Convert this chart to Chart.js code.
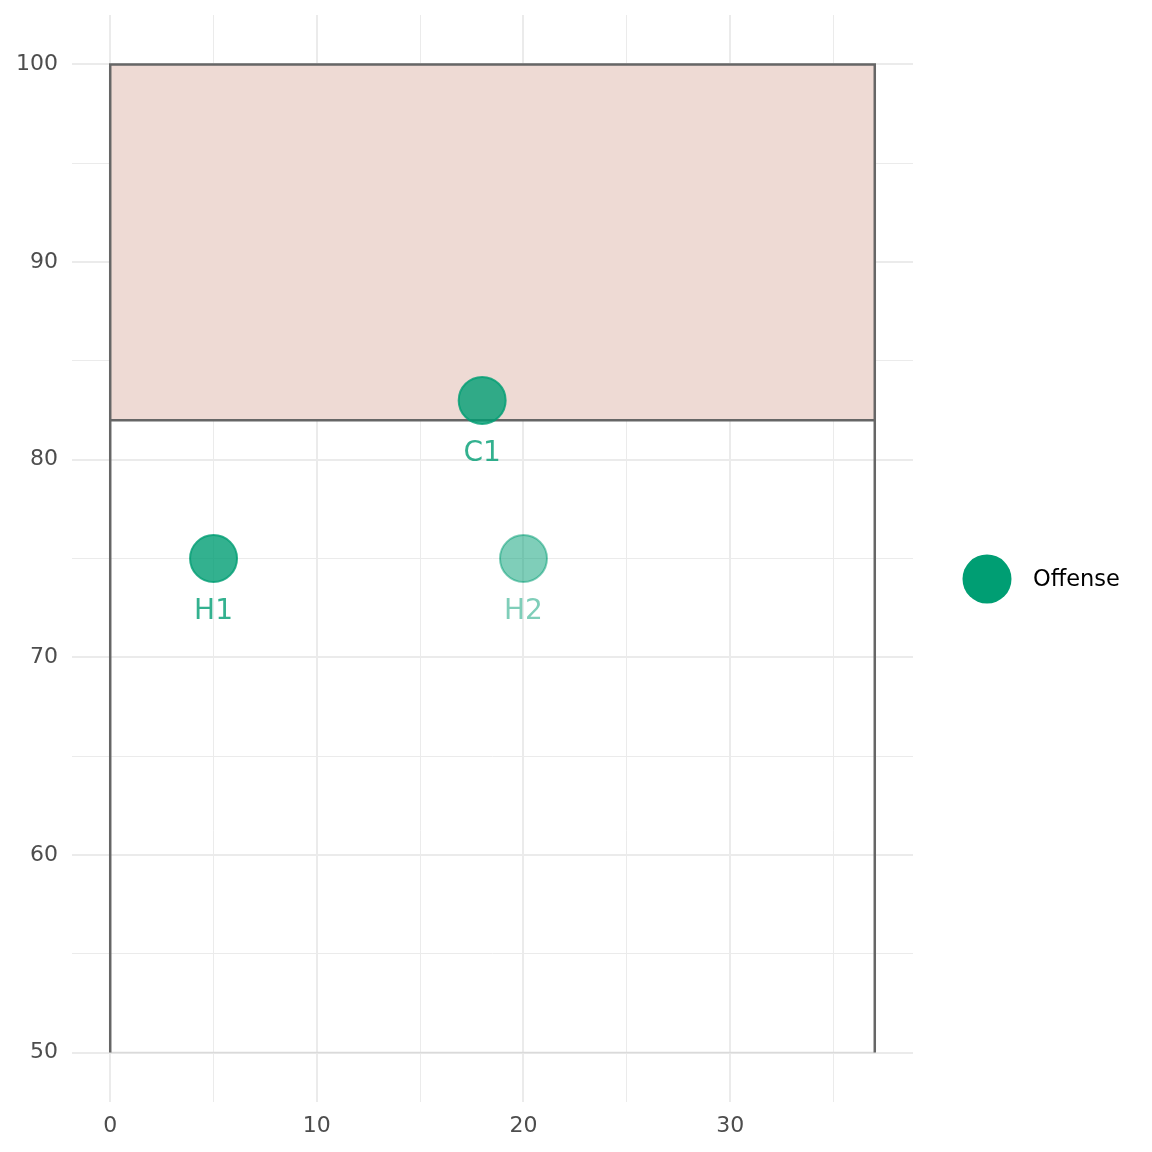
<!DOCTYPE html>
<html>
<head>
<meta charset="utf-8">
<script src="https://cdn.jsdelivr.net/npm/chart.js@4"></script>
<style>
  html, body { margin: 0; padding: 0; background: #ffffff; }
  #c { display: block; }
</style>
</head>
<body>
<canvas id="c" width="1152" height="1152"></canvas>
<script>
// ---- data ----
const playerLabels = ['C1', 'H1', 'H2'];
const playerX = [18, 5, 20];
const playerY = [83, 75, 75];
const playerAlpha = [0.8, 0.8, 0.5];
const fieldX = [0, 37];
const fieldY = [50, 100];
const endZoneY = [82, 100];
const xTicks = [0, 5, 10, 15, 20, 25, 30, 35];
const yTicks = [50, 55, 60, 65, 70, 75, 80, 85, 90, 95, 100];
const xMajor = [0, 10, 20, 30];
const yMajor = [50, 60, 70, 80, 90, 100];
const legendLabel = 'Offense';
const labelOffset = 2.7;

const green = a => `rgba(0,158,115,${a})`;
const FONT = '"DejaVu Sans", "Liberation Sans", sans-serif';

const points = playerX.map((x, i) => ({ x, y: playerY[i] }));

const datasets = [
  { // end zone fill
    type: 'line',
    data: [{ x: fieldX[0], y: endZoneY[1] }, { x: fieldX[1], y: endZoneY[1] }],
    fill: { value: endZoneY[0] },
    backgroundColor: '#EEDAD4',
    borderWidth: 0,
    pointRadius: 0,
    order: 5
  },
  { // bottom line
    type: 'line',
    data: [{ x: fieldX[0], y: fieldY[0] }, { x: fieldX[1], y: fieldY[0] }],
    borderColor: '#DADADA',
    borderWidth: 1.5,
    pointRadius: 0,
    fill: false,
    order: 4
  },
  { // outline
    type: 'line',
    data: [{ x: fieldX[0], y: fieldY[0] }, { x: fieldX[0], y: fieldY[1] }, { x: fieldX[1], y: fieldY[1] }, { x: fieldX[1], y: fieldY[0] }],
    borderColor: '#666666',
    borderWidth: 2.5,
    pointRadius: 0,
    fill: false,
    order: 3
  },
  { // goal line
    type: 'line',
    data: [{ x: fieldX[0], y: endZoneY[0] }, { x: fieldX[1], y: endZoneY[0] }],
    borderColor: '#666666',
    borderWidth: 2.5,
    pointRadius: 0,
    fill: false,
    order: 2
  },
  { // players
    type: 'scatter',
    data: points,
    pointRadius: 23.5,
    pointHoverRadius: 23.5,
    backgroundColor: playerAlpha.map(a => green(a)),
    borderColor: playerAlpha.map(a => green(a)),
    borderWidth: 2,
    order: 0
  }
];

const labelPlugin = {
  id: 'labels',
  afterDatasetsDraw(chart) {
    const ctx = chart.ctx;
    const xs = chart.scales.x, ys = chart.scales.y;
    ctx.save();
    ctx.font = `28px ${FONT}`;
    ctx.textAlign = 'center';
    ctx.textBaseline = 'middle';
    playerLabels.forEach((lab, i) => {
      ctx.fillStyle = green(playerAlpha[i]);
      ctx.fillText(lab, xs.getPixelForValue(playerX[i]), ys.getPixelForValue(playerY[i] - labelOffset));
    });
    ctx.restore();
  },
  afterDraw(chart) {
    const ctx = chart.ctx;
    ctx.save();
    ctx.fillStyle = '#009E73';
    ctx.beginPath();
    ctx.arc(987, 579, 24.5, 0, Math.PI * 2);
    ctx.fill();
    ctx.fillStyle = '#000000';
    ctx.font = `22.5px ${FONT}`;
    ctx.textAlign = 'left';
    ctx.textBaseline = 'middle';
    ctx.fillText(legendLabel, 1033, 580);
    ctx.restore();
  }
};

const gridColor = '#EBEBEB';

new Chart(document.getElementById('c'), {
  type: 'scatter',
  data: { datasets },
  options: {
    responsive: false,
    animation: false,
    devicePixelRatio: 1,
    layout: { autoPadding: false, padding: { left: 0, top: 15, right: 239, bottom: 0 } },
    plugins: { legend: { display: false }, tooltip: { enabled: false } },
    scales: {
      x: {
        type: 'linear',
        min: -1.85, max: 38.85,
        afterBuildTicks: axis => { axis.ticks = xTicks.map(v => ({ value: v })); },
        afterFit: s => { s.height = 50; s.paddingLeft = 0; s.paddingRight = 0; },
        border: { display: false },
        grid: {
          drawTicks: false,
          color: gridColor,
          lineWidth: c => (c.tick && xMajor.includes(c.tick.value)) ? 2 : 1
        },
        ticks: {
          autoSkip: false,
          maxRotation: 0,
          padding: 11,
          color: '#4D4D4D',
          font: { family: FONT, size: 22 },
          callback: v => xMajor.includes(v) ? String(v) : ''
        }
      },
      y: {
        type: 'linear',
        min: 47.5, max: 102.5,
        afterBuildTicks: axis => { axis.ticks = yTicks.map(v => ({ value: v })); },
        afterFit: s => { s.width = 72; s.paddingTop = 0; s.paddingBottom = 0; },
        border: { display: false },
        grid: {
          drawTicks: false,
          color: gridColor,
          lineWidth: c => (c.tick && yMajor.includes(c.tick.value)) ? 2 : 1
        },
        ticks: {
          autoSkip: false,
          padding: 14,
          color: '#4D4D4D',
          font: { family: FONT, size: 22 },
          callback: v => yMajor.includes(v) ? String(v) : ''
        }
      }
    }
  },
  plugins: [labelPlugin]
});
</script>
</body>
</html>
